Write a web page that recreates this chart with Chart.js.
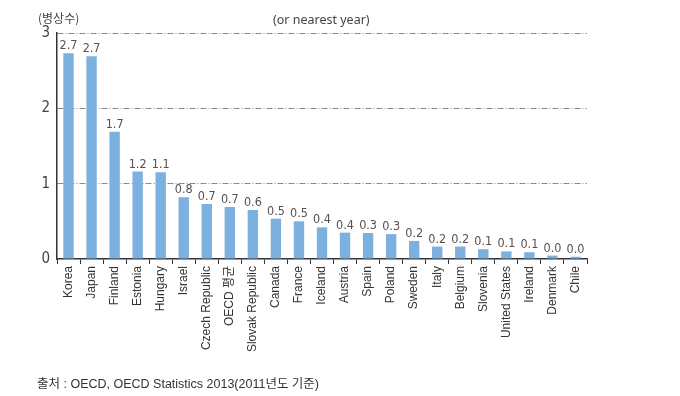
<!DOCTYPE html>
<html>
<head>
<meta charset="utf-8">
<script src="https://cdn.jsdelivr.net/npm/chart.js@4.4.0/dist/chart.umd.min.js"></script>
<style>
  html, body { margin: 0; padding: 0; background: #fff; }
  #wrap { position: relative; width: 680px; height: 396px; }
  canvas { position: absolute; left: 0; top: 0; }
  .txt { position: absolute; font-family: "Liberation Sans", "Noto Sans CJK KR", sans-serif; color: #333; white-space: nowrap; }
</style>
</head>
<body>
<div id="wrap">
  <canvas id="c" width="680" height="396"></canvas>
  <div class="txt" style="left:38px; top:9px; font-size:12px; font-family:'Noto Sans CJK KR', sans-serif; color:#444;">(병상수)</div>
  <div class="txt" style="left:273px; top:11px; font-size:12.5px; font-family:'Noto Sans', sans-serif; color:#444;">(or nearest year)</div>
  <div class="txt" style="left:37px; top:373px; font-size:12.5px; font-family:'Liberation Sans','Noto Sans CJK KR', sans-serif; color:#333;">출처&nbsp;:&nbsp;OECD, OECD Statistics 2013(2011년도 기준)</div>
</div>
<script>
const categories = ["Korea","Japan","Finland","Estonia","Hungary","Israel","Czech Republic","OECD 평균","Slovak Republic","Canada","France","Iceland","Austria","Spain","Poland","Sweden","Italy","Belgium","Slovenia","United States","Ireland","Denmark","Chile"];
const values = [2.73,2.69,1.69,1.16,1.15,0.82,0.73,0.69,0.65,0.535,0.50,0.42,0.35,0.345,0.33,0.24,0.165,0.165,0.13,0.10,0.09,0.045,0.03];
const valueLabels = ["2.7","2.7","1.7","1.2","1.1","0.8","0.7","0.7","0.6","0.5","0.5","0.4","0.4","0.3","0.3","0.2","0.2","0.2","0.1","0.1","0.1","0.0","0.0"];
const yTicks = [0,1,2,3];

const valueLabelPlugin = {
  id: 'valueLabels',
  afterDatasetsDraw(chart) {
    const ctx = chart.ctx;
    const meta = chart.getDatasetMeta(0);
    ctx.save();
    ctx.font = '12.5px "Liberation Sans Narrow", "DejaVu Sans Condensed", sans-serif';
    ctx.fillStyle = '#5a4f4f';
    ctx.textAlign = 'center';
    ctx.textBaseline = 'bottom';
    meta.data.forEach((bar, i) => {
      ctx.fillText(valueLabels[i], bar.x, bar.y - 1);
    });
    ctx.restore();
  }
};

new Chart(document.getElementById('c'), {
  type: 'bar',
  data: {
    labels: categories,
    datasets: [{
      data: values,
      backgroundColor: '#7cb0df',
      borderWidth: 0,
      categoryPercentage: 1.0,
      barPercentage: 0.45
    }]
  },
  options: {
    responsive: false,
    animation: false,
    events: [],
    layout: { padding: { left: 0, right: 93, top: 33, bottom: 0 } },
    plugins: { legend: { display: false }, tooltip: { enabled: false } },
    scales: {
      x: {
        offset: true,
        grid: { display: true, offset: true, drawOnChartArea: false, drawTicks: true, tickLength: 5, color: '#333', lineWidth: 1 },
        border: { display: true, color: '#333', width: 1.5 },
        ticks: {
          autoSkip: false, maxRotation: 90, minRotation: 90,
          color: '#333', padding: 2,
          font: { family: '"Liberation Sans", "Noto Sans CJK KR", sans-serif', size: 12 }
        },
        afterFit(scale) { scale.height = 396 - 259; }
      },
      y: {
        min: 0, max: 3,
        afterBuildTicks(scale) { scale.ticks = yTicks.map(v => ({ value: v })); },
        grid: {
          drawTicks: false,
          color: (c) => c.tick && c.tick.value === 0 ? 'rgba(0,0,0,0)' : '#8a8a8a',
          lineWidth: 1
        },
        border: { display: true, color: '#333', width: 1.5, dash: [6, 2, 1, 2] },
        ticks: {
          color: '#444', padding: 7,
          font: { family: '"Liberation Sans Narrow", "DejaVu Sans Condensed", sans-serif', size: 15 }
        },
        afterFit(scale) { scale.width = 57; }
      }
    }
  },
  plugins: [valueLabelPlugin]
});
</script>
</body>
</html>
